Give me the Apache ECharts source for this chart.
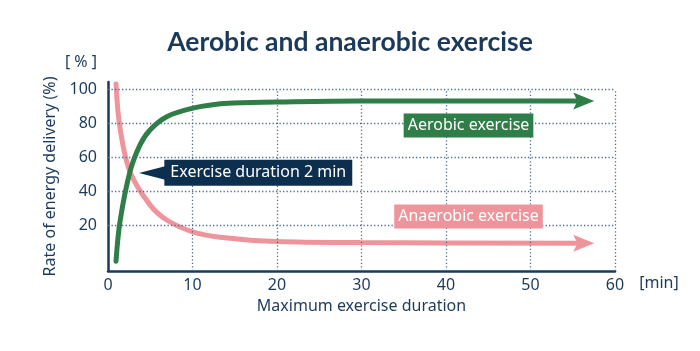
<!DOCTYPE html>
<html>
<head>
<meta charset="utf-8">
<script src="https://cdn.jsdelivr.net/npm/echarts@6/dist/echarts.min.js"></script>
<style>
html,body{margin:0;padding:0;background:#fff;}
#chart{width:700px;height:351px;}
</style>
</head>
<body>
<div id="chart"></div>
<script>
// ---- data ----
const titleText = 'Aerobic and anaerobic exercise';
const xTicks = [0, 10, 20, 30, 40, 50, 60];
const yTicks = [20, 40, 60, 80, 100];
const aerobicX = [0.95, 1.42, 2.6, 3.79, 4.97, 6.95, 9.94, 12.86, 14.8, 20, 29.8, 56.3];
const aerobicY = [-1, 22.2, 51.6, 67.4, 76.2, 84.0, 88.9, 91.3, 92.0, 92.6, 93.2, 93.2];
const anaerobicX = [0.95, 1.42, 2.6, 4.97, 6.95, 9.94, 13.25, 20, 29.8, 56.3];
const anaerobicY = [103.2, 77.4, 51.6, 32.1, 23.2, 16.4, 13.1, 10.5, 9.9, 9.5];
const seriesNames = ['Aerobic exercise', 'Anaerobic exercise'];
const calloutText = 'Exercise duration 2 min';
const yName = 'Rate of energy delivery (%)';
const xName = 'Maximum exercise duration';
const yUnit = '[ % ]';
const xUnit = '[min]';

// ---- styles ----
const NAVY = '#1b3a5b';
const GREEN = '#2f7d47';
const PINK = '#ee959c';
const GRID = '#4d6d8d';
const FONT = '"Noto Sans"';
const TFONT = 'Lato';
const Y_MIN = -6.8, Y_MAX = 104.4;
const ARROW = 'path://M0,0L10,5L0,10L2,5Z';

const zip = (xs, ys) => xs.map((x, i) => [x, ys[i]]);

const gridLines = [];
yTicks.forEach(v => gridLines.push([{coord: [xTicks[0], v]}, {coord: [xTicks[xTicks.length - 1], v]}]));
xTicks.slice(1).forEach(v => gridLines.push([{coord: [v, Y_MIN]}, {coord: [v, yTicks[yTicks.length - 1]]}]));

function lineSeries(name, data, color) {
  const last = data.length - 1;
  return {
    name, type: 'line', data, smooth: 0.35, z: 3,
    showSymbol: true, showAllSymbol: true,
    symbol: (v, p) => p.dataIndex === last ? ARROW : 'none',
    symbolSize: [21, 17], symbolKeepAspect: false,
    itemStyle: {color},
    lineStyle: {color, width: 5, cap: 'round'},
    emphasis: {disabled: true}
  };
}

const chart = echarts.init(document.getElementById('chart'), null, {renderer: 'canvas'});
chart.setOption({
  animation: false,
  backgroundColor: '#fff',
  title: {
    text: titleText, left: 'center', top: 24,
    textStyle: {fontFamily: TFONT, fontWeight: 'bold', fontSize: 26.5, color: NAVY}
  },
  grid: {left: 108, right: 85, top: 82, bottom: 80, containLabel: false},
  xAxis: {
    type: 'value', min: 0, max: 60, interval: 10,
    name: xName, nameLocation: 'middle', nameGap: 27,
    nameTextStyle: {fontFamily: FONT, fontSize: 16, color: NAVY},
    axisLine: {onZero: false, lineStyle: {color: NAVY, width: 2.5}},
    axisTick: {show: false},
    splitLine: {show: false},
    axisLabel: {fontFamily: FONT, fontSize: 16, color: NAVY, margin: 6}
  },
  yAxis: {
    type: 'value', min: Y_MIN, max: Y_MAX,
    name: yName, nameLocation: 'middle', nameGap: 42, nameRotate: 90,
    nameTextStyle: {fontFamily: FONT, fontSize: 16, color: NAVY},
    axisLine: {show: true, onZero: false, lineStyle: {color: NAVY, width: 2.5}},
    axisTick: {show: false},
    splitLine: {show: false},
    axisLabel: {
      fontFamily: FONT, fontSize: 16, color: NAVY, margin: 11,
      showMinLabel: false, showMaxLabel: false,
      formatter: v => yTicks.indexOf(Math.round(v * 1000) / 1000) >= 0 ? String(v) : ''
    }
  },
  series: [
    {
      type: 'line', data: [], z: 1, silent: true,
      markLine: {
        silent: true, symbol: ['none', 'none'], label: {show: false},
        lineStyle: {color: GRID, width: 1.3, type: [1.3, 2.2]},
        emphasis: {disabled: true},
        data: gridLines
      }
    },
    lineSeries(seriesNames[1], zip(anaerobicX, anaerobicY), PINK),
    lineSeries(seriesNames[0], zip(aerobicX, aerobicY), GREEN)
  ],
  graphic: [
    {type: 'text', x: 81, y: 62, style: {text: yUnit, font: '16px ' + FONT, fill: NAVY, align: 'center', verticalAlign: 'middle'}},
    {type: 'text', x: 659, y: 283, style: {text: xUnit, font: '16px ' + FONT, fill: NAVY, align: 'center', verticalAlign: 'middle'}},
    {type: 'text', x: 468.5, y: 125.5, z: 10, style: {text: seriesNames[0], font: '16px ' + FONT, fill: '#fff', align: 'center', verticalAlign: 'middle', backgroundColor: GREEN, padding: [4, 4, 4, 4]}},
    {type: 'text', x: 468.5, y: 216.5, z: 10, style: {text: seriesNames[1], font: '16px ' + FONT, fill: '#fff', align: 'center', verticalAlign: 'middle', backgroundColor: PINK, padding: [4, 4, 4, 4]}},
    {type: 'polygon', z: 10, shape: {points: [[139, 173], [166, 166], [166, 180]]}, style: {fill: '#0c2f50'}},
    {type: 'text', x: 258.3, y: 172.7, z: 10, style: {text: calloutText, font: '16px ' + FONT, fill: '#fff', align: 'center', verticalAlign: 'middle', backgroundColor: '#0c2f50', padding: [5, 6, 5, 6]}}
  ]
});
</script>
</body>
</html>
